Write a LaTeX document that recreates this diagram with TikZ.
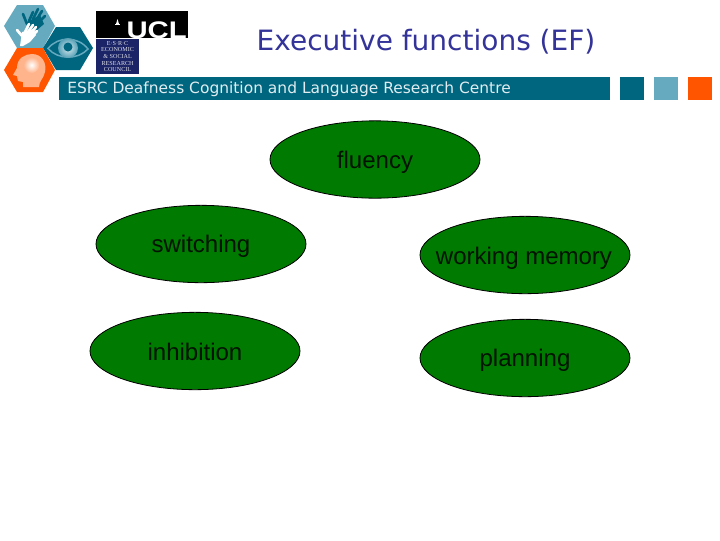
\documentclass[tikz,border=0pt]{standalone}
\usepackage{fontspec}
\setmainfont{Liberation Sans}
\newfontfamily\verd{DejaVu Sans}
\newfontfamily\logoserif{Liberation Serif}
\usetikzlibrary{shapes.geometric}
\definecolor{teal1}{HTML}{006680}
\definecolor{lblue}{HTML}{66AABF}
\definecolor{orng}{HTML}{FF5500}
\definecolor{peach}{HTML}{FFB48C}
\definecolor{egreen}{HTML}{007A00}
\definecolor{navy1}{HTML}{333399}
\definecolor{logonavy}{HTML}{1A2466}
\tikzset{
  blob/.style={ellipse,draw=black,line width=0.6pt,fill=egreen,minimum width=157.5pt,minimum height=58pt,inner sep=0pt},
  lbl/.style={text=black!85!egreen,font=\fontsize{18}{20}\selectfont,inner sep=0pt},
  sq/.style={minimum width=18pt,minimum height=17pt,inner sep=0pt},
  finger/.style={line cap=round,line width=2pt},
}
\begin{document}
\begin{tikzpicture}[x=0.75pt,y=-0.75pt]
\useasboundingbox (0,0) rectangle (720,540);
% hexagons
\fill[lblue] (4,26) -- (17,5) -- (43,5) -- (55,26) -- (43,48) -- (17,48) -- cycle;
\fill[teal1] (43,48) -- (56,27) -- (80,27) -- (93,48) -- (80,70) -- (56,70) -- cycle;
\fill[orng] (4,70) -- (17,48) -- (43,48) -- (55,70) -- (43,92) -- (17,92) -- cycle;
% dark hand
\fill[teal1] (27,22) -- (40,15) -- (44,24) -- (37,30) -- (29,27) -- cycle;
\draw[teal1,finger] (27,24) -- (23,14);
\draw[teal1,finger] (29,21) -- (33,12);
\draw[teal1,finger] (33,19) -- (38,9);
\draw[teal1,finger] (37,19) -- (42,11);
\draw[teal1,finger] (40,21) -- (45,16);
% white hand
\fill[white] (22,32) -- (34,29) -- (36,35) -- (30,42) -- (23,46) -- (20,46) -- cycle;
\draw[white,finger] (23,37) -- (17,30);
\draw[white,finger] (25,32) -- (29,24);
\draw[white,finger] (28,32) -- (33,25);
\draw[white,finger] (31,33) -- (36,27);
\draw[white,finger] (33,35) -- (37,31);
% eye
\draw[lblue,line width=1.1pt,fill=teal1] (48,48.5) .. controls (58,36) and (78,36) .. (88,49) .. controls (78,60) and (58,60) .. (48,48.5) -- cycle;
\shade[inner color=white!75!lblue,outer color=lblue!85!teal1] (68,48) circle (10);
\fill[teal1] (68,47) circle (4.5);
% head
\fill[peach] (23,87) -- (23,82) -- (18,81) -- (17,76) -- (13,75) -- (17,68) .. controls (17,58) and (25,54) .. (32,54) .. controls (42,54) and (47,63) .. (45,72) .. controls (44,78) and (39,81) .. (39,87) -- cycle;
\shade[inner color=white,outer color=peach] (31.5,65) circle (8);
% UCL logo
\node[fill=black,minimum width=68.5pt,minimum height=20pt,inner sep=0pt,anchor=north west] (ucl) at (96,11) {};
\node[text=white,font=\bfseries\fontsize{18}{18}\selectfont,inner sep=0pt,anchor=base east,xscale=1.22] (ucltext) at (187,38) {UCL};
\fill[white] (115,24) -- (120,24) -- (120,25) -- (115,25) -- cycle;
\fill[white] (117.5,19) -- (119,24) -- (116,24) -- cycle;
% ESRC logo
\node[fill=logonavy,minimum width=32pt,minimum height=26pt,inner sep=0pt,anchor=north west,text=white!85!logonavy,font=\logoserif\fontsize{4.6}{5}\selectfont,align=center] (esrclogo) at (96,39) {E·S·R·C\\ECONOMIC\\\& SOCIAL\\RESEARCH\\COUNCIL};
% banner
\node[fill=teal1,minimum width=413pt,minimum height=17pt,inner sep=0pt,anchor=north west] (banner) at (59,77) {};
\node[text=white!88!teal1,font=\verd\fontsize{11.6}{12}\selectfont,inner sep=0pt,anchor=west] (bannertext) at (67,89.5) {ESRC Deafness Cognition and Language Research Centre};
\node[sq,fill=teal1,anchor=north west] (s1) at (620,77) {};
\node[sq,fill=lblue,anchor=north west] (s2) at (654,77) {};
\node[sq,fill=orng,anchor=north west] (s3) at (688,77) {};
% title
\node[text=navy1,font=\verd\fontsize{21}{24}\selectfont,inner sep=0pt] (title) at (426,42) {Executive functions (EF)};
% ellipses
\node[blob] (fluency) at (375,159.5) {};
\node[lbl] at (375,162) {fluency};
\node[blob] (switching) at (201,244) {};
\node[lbl] at (201,246) {switching};
\node[blob] (wm) at (525,255) {};
\node[lbl] at (524,258) {working memory};
\node[blob] (inhibition) at (195,351) {};
\node[lbl] at (195,351.5) {inhibition};
\node[blob] (planning) at (525,358) {};
\node[lbl] at (525,360) {planning};
\end{tikzpicture}
\end{document}
